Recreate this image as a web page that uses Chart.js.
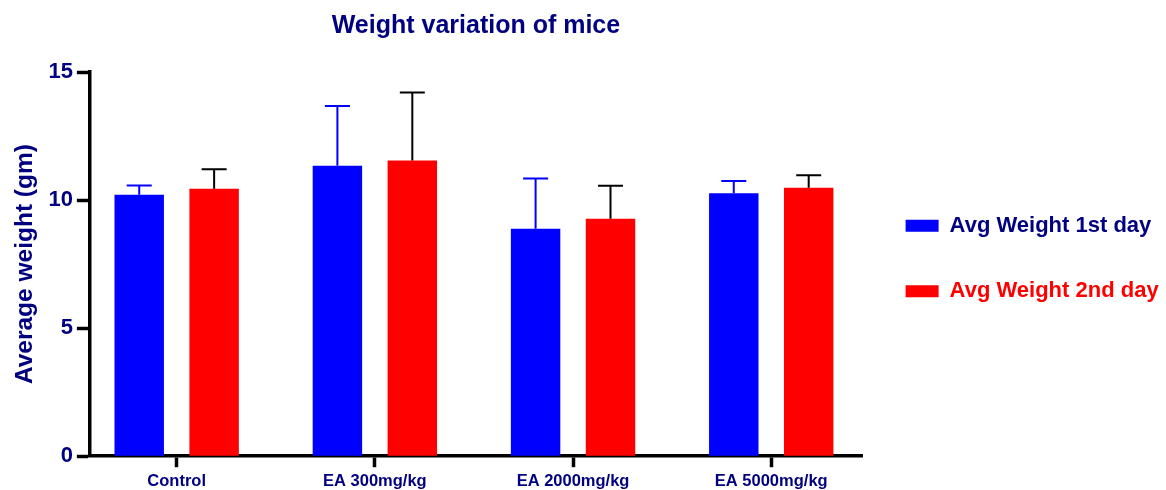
<!DOCTYPE html>
<html>
<head>
<meta charset="utf-8">
<script src="https://cdn.jsdelivr.net/npm/chart.js@4"></script>
<style>
  html, body { margin: 0; padding: 0; background: #fff; }
  #wrap { width: 1166px; height: 490px; }
</style>
</head>
<body>
<div id="wrap"><canvas id="chart"></canvas></div>
<script>
const categories = ['Control', 'EA 300mg/kg', 'EA 2000mg/kg', 'EA 5000mg/kg'];
const seriesNames = ['Avg Weight 1st day', 'Avg Weight 2nd day'];
const day1 = [10.21, 11.34, 8.88, 10.27];
const day2 = [10.44, 11.54, 9.27, 10.48];
const day1Err = [0.36, 2.33, 1.96, 0.47];
const day2Err = [0.76, 2.66, 1.29, 0.49];
const yTicks = [0, 5, 10, 15];

const NAVY = '#000080';

// upper error bars, drawn from the bar scale
const errorBars = {
  id: 'errorBars',
  afterDatasetsDraw(chart) {
    const ctx = chart.ctx;
    const y = chart.scales.y;
    chart.data.datasets.forEach((ds, i) => {
      const meta = chart.getDatasetMeta(i);
      ctx.save();
      ctx.strokeStyle = ds.errColor;
      ctx.lineWidth = 2;
      meta.data.forEach((bar, j) => {
        const top = y.getPixelForValue(ds.data[j].y + ds.errors[j]);
        ctx.beginPath();
        ctx.moveTo(bar.x, bar.y);
        ctx.lineTo(bar.x, top);
        ctx.moveTo(bar.x - 12.5, top);
        ctx.lineTo(bar.x + 12.5, top);
        ctx.stroke();
      });
      ctx.restore();
    });
  }
};

const toPoints = arr => arr.map((v, i) => ({ x: i, y: v }));

new Chart(document.getElementById('chart'), {
  type: 'bar',
  data: {
    datasets: [
      { label: seriesNames[0], data: toPoints(day1), errors: day1Err, backgroundColor: '#0000ff', errColor: '#0000ff', textColor: NAVY },
      { label: seriesNames[1], data: toPoints(day2), errors: day2Err, backgroundColor: '#ff0000', errColor: '#000000', textColor: '#ff0000' }
    ]
  },
  options: {
    responsive: true,
    maintainAspectRatio: false,
    animation: false,
    categoryPercentage: 0.756,
    barPercentage: 0.66,
    layout: { padding: { left: 0, right: 0, top: 0, bottom: -5 } },
    plugins: {
      tooltip: { enabled: false },
      title: {
        display: true,
        text: 'Weight variation of mice',
        color: NAVY,
        fullSize: false,
        font: { family: 'Liberation Sans', size: 25, weight: 'bold' },
        padding: { top: 11, bottom: 31 }
      },
      legend: {
        position: 'right',
        maxWidth: 304,
        // empty title only nudges the items down
        title: { display: true, text: '', font: { size: 10, lineHeight: 1.2 }, padding: { top: 10, bottom: 0 } },
        labels: {
          boxWidth: 33,
          boxHeight: 12,
          padding: 43.6,
          font: { family: 'Liberation Sans', size: 22, weight: 'bold', lineHeight: 1.2 },
          generateLabels(chart) {
            return chart.data.datasets.map((ds, i) => ({
              text: ds.label,
              fillStyle: ds.backgroundColor,
              strokeStyle: ds.backgroundColor,
              lineWidth: 0,
              fontColor: ds.textColor,
              datasetIndex: i,
              hidden: false
            }));
          }
        }
      }
    },
    scales: {
      x: {
        type: 'linear',
        min: -0.438,
        max: 3.458,
        offset: false,
        grid: { display: true, offset: false, drawOnChartArea: false, drawTicks: true, tickLength: 11, tickWidth: 3.5, tickColor: '#000' },
        border: { display: true, color: '#000', width: 3.5 },
        ticks: {
          stepSize: 1,
          includeBounds: false,
          padding: 4,
          color: NAVY,
          font: { family: 'Liberation Sans', size: 16.5, weight: 'bold' },
          callback: v => categories[v] ?? ''
        }
      },
      y: {
        min: 0,
        max: 15,
        afterBuildTicks: axis => { axis.ticks = yTicks.map(v => ({ value: v })); },
        grid: { display: true, drawOnChartArea: false, drawTicks: true, tickLength: 13, tickWidth: 3.5, tickColor: '#000' },
        border: { display: true, color: '#000', width: 3.5 },
        ticks: {
          padding: 4,
          color: NAVY,
          font: { family: 'Liberation Sans', size: 22, weight: 'bold' }
        },
        title: {
          display: true,
          text: 'Average weight (gm)',
          color: NAVY,
          font: { family: 'Liberation Sans', size: 24.5, weight: 'bold', lineHeight: 1.2 },
          padding: { top: 11, bottom: 4 }
        }
      }
    }
  },
  plugins: [errorBars]
});
</script>
</body>
</html>
